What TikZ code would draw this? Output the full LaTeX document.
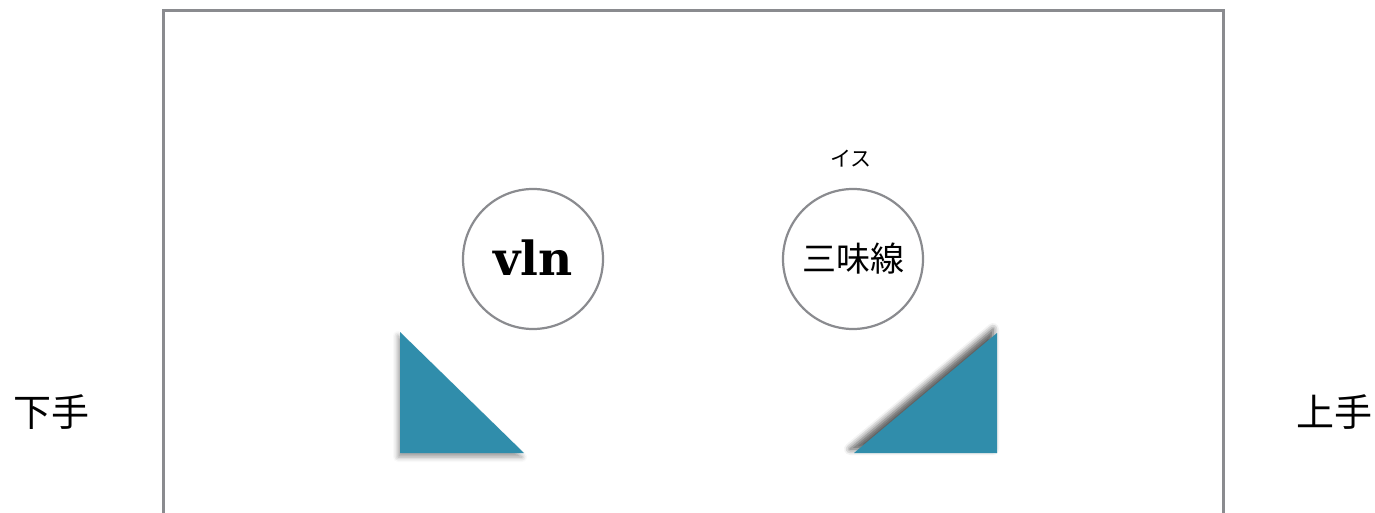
\documentclass[tikz,border=0pt]{standalone}
\usepackage{fontspec}
\newfontfamily\jpfont{Noto Sans CJK JP}
\newfontfamily\slabfont{DejaVu Serif}
\usetikzlibrary{shadows.blur}
\definecolor{stagegray}{RGB}{138,139,143}
\definecolor{standteal}{RGB}{48,141,171}
\begin{document}
\begin{tikzpicture}[x=1pt,y=-1pt,line join=miter,
  seat/.style={circle,draw=stagegray,line width=2.2pt,minimum size=140pt,
               inner sep=0pt,fill=white},
  stand/.style={fill=standteal,blur shadow={shadow xshift=-2pt,
               shadow yshift=-4pt,shadow blur radius=5pt}},
  side/.style={font=\jpfont\fontsize{38}{40}\selectfont}]
\useasboundingbox (0,0) rectangle (1375,513);
% stage
\draw[stagegray,line width=3pt] (163,513) -- (163,11) -- (1223,11) -- (1223,513);
\node[side] (shimote) at (51,412) {下手};
\node[side] (kamite) at (1334,412) {上手};
% players
\node[seat,font=\slabfont\bfseries\fontsize{47}{49}\selectfont,
  text depth=2pt] (vln) at (533,259) {vln};
\node[seat,font=\jpfont\fontsize{34}{36}\selectfont] (shamisen) at (853,259) {三味線};
\node[font=\jpfont\fontsize{21}{22}\selectfont] (isu) at (851,159) {イス};
% music stands
\path[stand] (400,332) -- (400,453) -- (524,453) -- cycle;
\path[stand,blur shadow={shadow xshift=-4pt,shadow yshift=4pt,
  shadow blur radius=6pt}]
  (997,333) -- (997,453) -- (854,453) -- cycle;
\end{tikzpicture}
\end{document}
